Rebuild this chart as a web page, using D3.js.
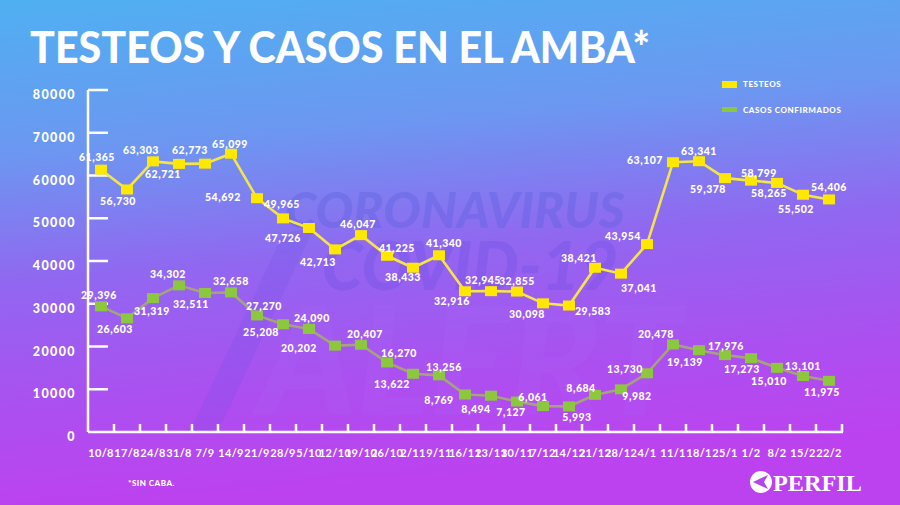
<!DOCTYPE html>
<html><head><meta charset="utf-8">
<script src="https://cdn.jsdelivr.net/npm/d3@7"></script>
<style>html,body{margin:0;padding:0;overflow:hidden;background:#8a6cf0}</style>
</head><body>
<svg id="c" width="900" height="505"></svg>
<script>
const categories = ["10/8","17/8","24/8","31/8","7/9","14/9","21/9","28/9","5/10","12/10","19/10","26/10","2/11","9/11","16/11","23/11","30/11","7/12","14/12","21/12","28/12","4/1","11/1","18/1","25/1","1/2","8/2","15/2","22/2"];
const testeos = [61365,56730,63303,62721,62773,65099,54692,49965,47726,42713,46047,41225,38433,41340,32916,32945,32855,30098,29583,38421,37041,43954,63107,63341,59378,58799,58265,55502,54406];
const casos = [29396,26603,31319,34302,32511,32658,27270,25208,24090,20202,20407,16270,13622,13256,8769,8494,7127,6061,5993,8684,9982,13730,20478,19139,17976,17273,15010,13101,11975];
const yTicks = [0,10000,20000,30000,40000,50000,60000,70000,80000];
const seriesNames = ["TESTEOS","CASOS CONFIRMADOS"];

// label placement offsets (style only)
const testeosLabelOffsets = [[-4,-13],[-9,12],[-12,-11],[-16,10],[-15,-14],[-1,-10],[-34,-1],[-1,-14],[-26,10],[-17,13],[-3,-11],[10,-8],[-10,9],[5,-12],[-13,10],[-8,-11],[0,-11],[-16,11],[24,5],[-16,-10],[18,14],[-24,-8],[-28,-2],[0,-10],[-17,11],[8,-8],[-8,10],[-7,14],[0,-12]];
const casosLabelOffsets = [[-2,-11],[-12,11],[-1,13],[-11,-11],[-14,11],[0,-11],[7,-9],[-22,8],[3,-11],[-36,2],[4,-11],[12,-9],[-21,10],[5,-8],[-26,5],[-15,13],[-6,10],[-10,-9],[8,11],[-14,-7],[16,7],[-22,-4],[-17,-10],[-14,12],[1,-9],[-9,11],[-8,13],[0,-10],[-7,11]];

const svg = d3.select("#c");
const W = 900, H = 505;
const defs = svg.append("defs");
const g = defs.append("linearGradient").attr("id","bg").attr("x1","0").attr("y1","0").attr("x2","0.15").attr("y2","1");
[[0,"#4fb0f1"],[0.3,"#6c97f1"],[0.55,"#9167f0"],[0.8,"#ac4ff0"],[1,"#bd42ef"]].forEach(s=>g.append("stop").attr("offset",s[0]).attr("stop-color",s[1]));
svg.append("rect").attr("width",W).attr("height",H).attr("fill","url(#bg)");

// watermark
const wm = svg.append("g").attr("font-family","Lato, 'Open Sans', sans-serif").attr("font-weight",900).attr("font-style","italic");
wm.append("text").attr("x",455).attr("y",228).attr("text-anchor","middle").attr("font-size",50).attr("fill","#5a5fe0").attr("opacity",0.35).text("CORONAVIRUS");
wm.append("text").attr("x",470).attr("y",290).attr("text-anchor","middle").attr("font-size",66).attr("fill","#6a4fe4").attr("opacity",0.3).text("COVID-19");
wm.append("text").attr("x",470).attr("y",415).attr("text-anchor","middle").attr("font-size",150).attr("fill","#b070ff").attr("opacity",0.12).text("ALERT");
wm.append("text").attr("x",250).attr("y",420).attr("text-anchor","middle").attr("font-size",260).attr("fill","#6a4ee6").attr("opacity",0.18).text("/");

// title
svg.append("text").attr("x",30).attr("y",63).attr("fill","#fff")
  .attr("font-family","Lato, 'Open Sans', sans-serif").attr("font-weight",900).attr("font-size",44)
  .attr("textLength",620).attr("lengthAdjust","spacingAndGlyphs").text("TESTEOS Y CASOS EN EL AMBA*");

// scales
const x = d3.scaleBand().domain(categories).range([88,842]).padding(0);
const y = d3.scaleLinear().domain([0,80000]).range([432,90]);
const cx = d => x(d) + x.bandwidth()/2;

// axes
const axisG = svg.append("g").attr("stroke","#fff").attr("stroke-width",2.5).attr("fill","none");
axisG.append("line").attr("x1",88).attr("x2",88).attr("y1",y(80000)).attr("y2",y(0));
axisG.append("line").attr("x1",88).attr("x2",843).attr("y1",y(0)).attr("y2",y(0));
axisG.selectAll(".yt").data(yTicks.filter(t=>t>0)).join("line")
  .attr("x1",88).attr("x2",108).attr("y1",d=>y(d)).attr("y2",d=>y(d));
axisG.selectAll(".xt").data(categories).join("line")
  .attr("x1",d=>x(d)+x.bandwidth()).attr("x2",d=>x(d)+x.bandwidth())
  .attr("y1",y(0)).attr("y2",y(0)-8);

svg.append("g").selectAll("text").data(yTicks).join("text")
  .attr("x",76).attr("y",d=>y(d)+9).attr("text-anchor","end").attr("fill","#fff")
  .attr("font-family","Lato, sans-serif").attr("font-weight",900).attr("font-size",12.5).attr("letter-spacing",1.4)
  .text(d=>d);

svg.append("g").selectAll("text").data(categories).join("text")
  .attr("x",d=>cx(d)).attr("y",457).attr("text-anchor","middle").attr("fill","#fff")
  .attr("font-family","Lato, sans-serif").attr("font-weight",700).attr("font-size",11).attr("letter-spacing",0.3)
  .text(d=>d);

// lines
function drawSeries(vals, lineColor, markColor, offsets){
  const pts = vals.map((v,i)=>[cx(categories[i]), y(v)]);
  svg.append("path").attr("d",d3.line()(pts)).attr("fill","none").attr("stroke",lineColor).attr("stroke-width",2.6);
  svg.append("g").selectAll("rect").data(pts).join("rect")
    .attr("x",d=>d[0]-6).attr("y",d=>d[1]-5).attr("width",12).attr("height",10).attr("fill",markColor);
  svg.append("g").selectAll("text").data(vals).join("text")
    .attr("x",(d,i)=>pts[i][0]+offsets[i][0]).attr("y",(d,i)=>pts[i][1]+offsets[i][1]+4)
    .attr("text-anchor","middle").attr("fill","#fff")
    .attr("font-family","Lato, sans-serif").attr("font-weight",900).attr("font-size",10.5).attr("letter-spacing",0.5)
    .text(d=>d3.format(",")(d));
}
drawSeries(casos, "#a7a17e", "#8dc63f", casosLabelOffsets);
drawSeries(testeos, "#f3e54a", "#ffe800", testeosLabelOffsets);

// legend
const lg = svg.append("g");
const legColors = ["#ffe800","#8dc63f"];
seriesNames.forEach((n,i)=>{
  lg.append("rect").attr("x",722).attr("y",81+i*26).attr("width",15).attr("height",i?5:7).attr("fill",legColors[i]);
  lg.append("text").attr("x",743).attr("y",87+i*26).attr("fill","#fff")
    .attr("font-family","Lato, sans-serif").attr("font-weight",900).attr("font-size",8).attr("letter-spacing",0.6).text(n);
});

// footnote
svg.append("text").attr("x",128).attr("y",486).attr("fill","#fff")
  .attr("font-family","Lato, sans-serif").attr("font-weight",900).attr("font-size",8).attr("letter-spacing",0.5).text("*SIN CABA.");

// logo
const logo = svg.append("g");
logo.append("circle").attr("cx",761).attr("cy",482).attr("r",11).attr("fill","#fff");
logo.append("path").attr("d","M753,482 L768,475 L764,482 L768,489 Z").attr("fill","#b145ef");
logo.append("text").attr("x",773).attr("y",491).attr("fill","#fff")
  .attr("font-family","'Liberation Serif', 'DejaVu Serif', serif").attr("font-weight",700).attr("font-size",24)
  .attr("textLength",89).attr("lengthAdjust","spacingAndGlyphs").text("PERFIL");
</script>
</body></html>
